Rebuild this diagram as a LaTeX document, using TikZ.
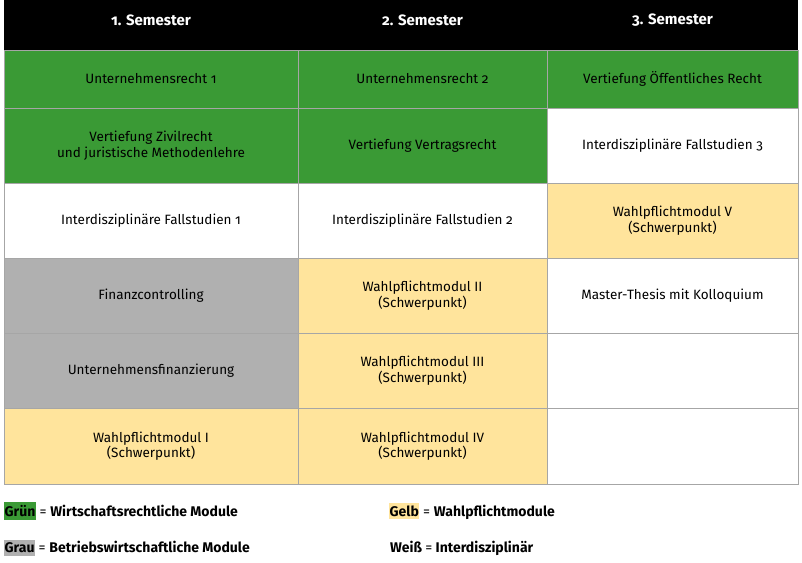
\documentclass[tikz,border=0pt]{standalone}
\usepackage{fontspec}
\setmainfont[Numbers=OldStyle]{Fira Sans}
\definecolor{gruen}{HTML}{3A9A35}
\definecolor{gelb}{HTML}{FFE49C}
\definecolor{grau}{HTML}{B0B0B0}
\begin{document}
\begin{tikzpicture}[x=1pt,y=-1pt,
 cell/.style={draw=gray!70,line width=0.8pt,minimum height=#1,inner sep=0pt,align=center,font=\fontsize{13.5}{15.5}\selectfont},
 c1/.style={minimum width=294},c2/.style={minimum width=249},c3/.style={minimum width=251},
 hd/.style={text=white,font=\bfseries\fontsize{15}{17}\selectfont,inner sep=0pt},
 leg/.style={anchor=west,inner sep=1pt,font=\fontsize{14}{16}\selectfont}]
\useasboundingbox (0,0) rectangle (802,562);
\fill[black] (4,0) rectangle (798,50);
\node[hd] (h1) at (151,20) {1. Semester};
\node[hd] (h2) at (422.5,20) {2. Semester};
\node[hd] (h3) at (672.5,20) {3. Semester};
% column 1
\node[cell=58,c1,fill=gruen] (a1) at (151,79) {Unternehmensrecht 1};
\node[cell=75,c1,fill=gruen] (a2) at (151,145.5) {Vertiefung Zivilrecht\\und juristische Methodenlehre};
\node[cell=75,c1,fill=white] (a3) at (151,220.5) {Interdisziplinäre Fallstudien 1};
\node[cell=75,c1,fill=grau] (a4) at (151,295.5) {Finanzcontrolling};
\node[cell=75,c1,fill=grau] (a5) at (151,370.5) {Unternehmensfinanzierung};
\node[cell=76,c1,fill=gelb] (a6) at (151,446) {Wahlpflichtmodul I\\(Schwerpunkt)};
% column 2
\node[cell=58,c2,fill=gruen] (b1) at (422.5,79) {Unternehmensrecht 2};
\node[cell=75,c2,fill=gruen] (b2) at (422.5,145.5) {Vertiefung Vertragsrecht};
\node[cell=75,c2,fill=white] (b3) at (422.5,220.5) {Interdisziplinäre Fallstudien 2};
\node[cell=75,c2,fill=gelb] (b4) at (422.5,295.5) {Wahlpflichtmodul II\\(Schwerpunkt)};
\node[cell=75,c2,fill=gelb] (b5) at (422.5,370.5) {Wahlpflichtmodul III\\(Schwerpunkt)};
\node[cell=76,c2,fill=gelb] (b6) at (422.5,446) {Wahlpflichtmodul IV\\(Schwerpunkt)};
% column 3
\node[cell=58,c3,fill=gruen] (d1) at (672.5,79) {Vertiefung Öffentliches Recht};
\node[cell=75,c3,fill=white] (d2) at (672.5,145.5) {Interdisziplinäre Fallstudien 3};
\node[cell=75,c3,fill=gelb] (d3) at (672.5,220.5) {Wahlpflichtmodul V\\(Schwerpunkt)};
\node[cell=75,c3,fill=white] (d4) at (672.5,295.5) {Master-Thesis mit Kolloquium};
\node[cell=75,c3,fill=white] (d5) at (672.5,370.5) {};
\node[cell=76,c3,fill=white] (d6) at (672.5,446) {};
% legend
\node[leg] (l1) at (3,511) {\colorbox{gruen}{\hspace{-2.5pt}\bfseries Grün\hspace{-2.5pt}} = \bfseries Wirtschaftsrechtliche Module};
\node[leg] (l2) at (388,511) {\colorbox{gelb}{\hspace{-2.5pt}\bfseries Gelb\hspace{-2.5pt}} = \bfseries Wahlpflichtmodule};
\node[leg] (l3) at (3,548) {\colorbox{grau}{\hspace{-2.5pt}\bfseries Grau\hspace{-2.5pt}} = \bfseries Betriebswirtschaftliche Module};
\node[leg] (l4) at (388,548) {\hspace{1pt}\bfseries Weiß {\mdseries =} Interdisziplinär};
\end{tikzpicture}
\end{document}
